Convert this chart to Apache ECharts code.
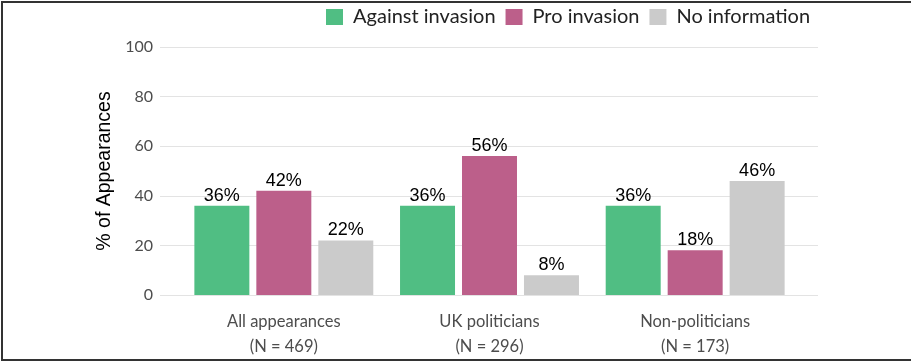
<!DOCTYPE html>
<html>
<head>
<meta charset="utf-8">
<script src="https://cdn.jsdelivr.net/npm/echarts@6/dist/echarts.min.js"></script>
<style>
html,body{margin:0;padding:0;background:#fff;overflow:hidden;}
#chart{position:absolute;left:0;top:0;width:911px;height:362px;}
#frame{position:absolute;left:1px;top:1px;width:1000px;height:356px;border:2px solid #333;border-right:none;pointer-events:none;}
</style>
</head>
<body>
<div id="chart"></div>
<div id="frame"></div>
<script>
const categories = ['All appearances\n(N = 469)', 'UK politicians\n(N = 296)', 'Non-politicians\n(N = 173)'];
const seriesNames = ['Against invasion', 'Pro invasion', 'No information'];
const againstValues = [36, 36, 36];
const proValues = [42, 56, 18];
const noInfoValues = [22, 8, 46];
const yTicks = [0, 20, 40, 60, 80, 100];
const colors = ['#50be83', '#bc5f8a', '#cbcbcb'];

const chart = echarts.init(document.getElementById('chart'));
const dataSets = [againstValues, proValues, noInfoValues];
const labelStyle = {
  show: true, position: 'top', distance: 1,
  formatter: p => p.value + '%',
  fontFamily: 'Liberation Sans', fontSize: 18, color: '#000'
};
chart.setOption({
  animation: false,
  color: colors,
  legend: {
    left: 326, top: 7, padding: 0,
    itemWidth: 17, itemHeight: 16, itemGap: 10,
    icon: 'rect',
    textStyle: {fontFamily: 'Lato', fontSize: 20, color: '#222', padding: [0, 0, 0, 5]},
    data: seriesNames
  },
  grid: [
    {left: 160, right: 93, top: 47, bottom: 67},
    {left: 181, right: 113, top: 47, bottom: 67}
  ],
  xAxis: [
    {gridIndex: 0, type: 'value', min: 0, max: 1, show: false},
    {gridIndex: 1, type: 'category', data: categories,
     axisLine: {show: false}, axisTick: {show: false},
     axisLabel: {fontFamily: 'Lato', fontSize: 16.5, color: '#4d4d4d', lineHeight: 25, margin: 14}}
  ],
  yAxis: [
    {gridIndex: 0, type: 'value', min: yTicks[0], max: yTicks[yTicks.length - 1], interval: 20,
     axisLine: {show: false}, axisTick: {show: false},
     axisLabel: {fontFamily: 'Lato', fontSize: 16, color: '#4d4d4d', margin: 7},
     splitLine: {lineStyle: {color: '#e3e3e3', width: 1}},
     name: '% of Appearances', nameLocation: 'middle', nameGap: 39,
     nameTextStyle: {fontFamily: 'Liberation Sans', fontSize: 19.5, color: '#000'}},
    {gridIndex: 1, type: 'value', min: 0, max: 100, show: false}
  ],
  series: seriesNames.map((n, i) => ({
    name: n, type: 'bar', xAxisIndex: 1, yAxisIndex: 1,
    data: dataSets[i],
    barGap: '12.7%', barCategoryGap: '13%',
    label: labelStyle
  }))
});
</script>
</body>
</html>
